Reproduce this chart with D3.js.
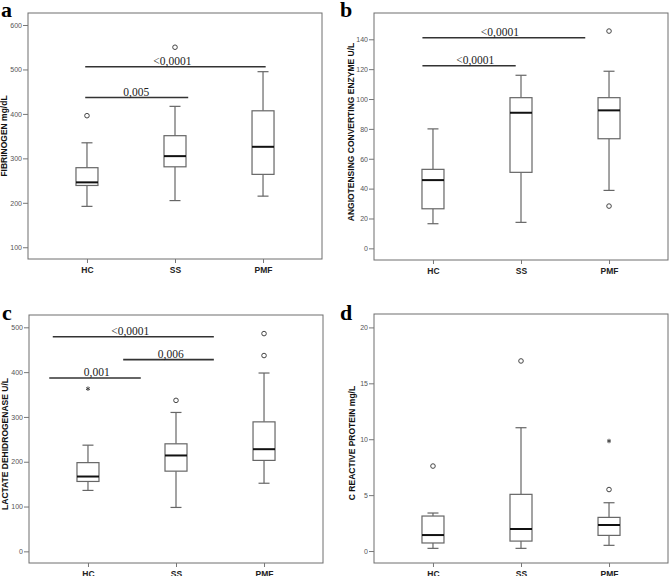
<!DOCTYPE html>
<html>
<head>
<meta charset="utf-8">
<script src="https://cdn.jsdelivr.net/npm/d3@7"></script>
<style>
  body { margin: 0; background: #fff; }
  svg { display: block; }
</style>
</head>
<body>
<script>
// groups on the x axis of every panel
var groups = ["HC", "SS", "PMF"];

// five number summaries per group: [low whisker, Q1, median, Q3, high whisker]
var fibrinogenStats = [[192, 239, 246, 279, 335], [205, 281, 305, 351, 417], [215, 264, 326, 407, 495]];
var aceStats = [[16.5, 26.5, 45.7, 52.9, 80], [17.4, 50.9, 90.8, 100.9, 115.9], [38.8, 73.4, 92.4, 100.9, 118.6]];
var ldhStats = [[136, 156, 167, 198, 237], [98, 179, 214, 240, 310], [152, 203, 228, 289, 398]];
var crpStats = [[0.24, 0.72, 1.43, 3.13, 3.4], [0.24, 0.89, 1.97, 5.07, 11.03], [0.51, 1.4, 2.33, 3.01, 4.32]];

// outliers: group index, value, kind ("o" circle, "*" extreme)
var fibrinogenOutliers = [[0, 396, "o"], [1, 550, "o"]];
var aceOutliers = [[2, 145.5, "o"], [2, 28.3, "o"]];
var ldhOutliers = [[0, 363, "*"], [1, 337, "o"], [2, 437, "o"], [2, 486, "o"]];
var crpOutliers = [[0, 7.6, "o"], [1, 17.0, "o"], [2, 5.5, "o"], [2, 9.84, "*"]];

// significance bars: from (group index), to (group index), value level, label position, label
var fibrinogenBars = [[-0.02, 2.03, 506, 0.97, "<0,0001"], [-0.02, 1.15, 437, 0.56, "0,005"]];
var aceBars = [[-0.12, 1.73, 141, 0.76, "<0,0001"], [-0.12, 0.94, 122.3, 0.48, "<0,0001"]];
var ldhBars = [[-0.40, 1.43, 479, 0.48, "<0,0001"], [0.40, 1.43, 428, 0.94, "0,006"], [-0.44, 0.60, 387, 0.10, "0,001"]];
var crpBars = [];

// tick labels
var fibrinogenTicks = [100, 200, 300, 400, 500, 600];
var aceTicks = [0, 20, 40, 60, 80, 100, 120, 140];
var ldhTicks = [0, 100, 200, 300, 400, 500];
var crpTicks = [0, 5, 10, 15, 20];

var svg = d3.select("body").append("svg")
    .attr("width", 670)
    .attr("height", 576);

var panels = [
  { letter: "a", lx: 1, ly: 17, x0: 28, x1: 322, y0: 13, y1: 259, domain: [73.6, 627],
    title: "FIBRINOGEN mg/dL", tx: 7, ty: 136,
    stats: fibrinogenStats, outliers: fibrinogenOutliers, bars: fibrinogenBars, ticks: fibrinogenTicks },
  { letter: "b", lx: 340, ly: 17, x0: 374, x1: 668, y0: 13, y1: 260, domain: [-7.8, 157.6],
    title: "ANGIOTENSING CONVERTING ENZYME U/L", tx: 354, ty: 132,
    stats: aceStats, outliers: aceOutliers, bars: aceBars, ticks: aceTicks },
  { letter: "c", lx: 2, ly: 320, x0: 29, x1: 323, y0: 315, y1: 563, domain: [-26, 527.5],
    title: "LACTATE DEHIDROGENASE U/L", tx: 8, ty: 444,
    stats: ldhStats, outliers: ldhOutliers, bars: ldhBars, ticks: ldhTicks },
  { letter: "d", lx: 340, ly: 320, x0: 374, x1: 668, y0: 314, y1: 563, domain: [-1.07, 21.2],
    title: "C REACTIVE PROTEIN mg/L", tx: 355, ty: 443,
    stats: crpStats, outliers: crpOutliers, bars: crpBars, ticks: crpTicks }
];

panels.forEach(function(p) {
  var x = d3.scalePoint().domain(groups).range([p.x0, p.x1]).padding(0.67);
  var xi = d3.scaleLinear().domain([0, 2]).range([x(groups[0]), x(groups[2])]);
  var y = d3.scaleLinear().domain(p.domain).range([p.y1, p.y0]);
  var boxW = 22;

  var g = svg.append("g");

  // frame
  g.append("rect")
      .attr("x", p.x0)
      .attr("y", p.y0)
      .attr("width", p.x1 - p.x0)
      .attr("height", p.y1 - p.y0)
      .attr("fill", "none")
      .attr("stroke", "#6e6e6e")
      .attr("stroke-width", 1);

  // y axis
  var ya = g.append("g")
      .attr("transform", "translate(" + p.x0 + ",0)")
      .call(d3.axisLeft(y).tickValues(p.ticks).tickSize(5).tickPadding(1));
  ya.select(".domain").remove();
  ya.selectAll("line").attr("stroke", "#777");
  ya.selectAll("text")
      .attr("font-family", "Liberation Sans, Arial, sans-serif")
      .attr("font-size", 7)
      .attr("fill", "#555");

  // x axis
  var xa = g.append("g")
      .attr("transform", "translate(0," + p.y1 + ")")
      .call(d3.axisBottom(x).tickSize(4).tickPadding(3.5));
  xa.select(".domain").remove();
  xa.selectAll("line").attr("stroke", "#777");
  xa.selectAll("text")
      .attr("font-family", "Liberation Sans, Arial, sans-serif")
      .attr("font-size", 8.5)
      .attr("font-weight", "bold")
      .attr("fill", "#222");

  // y title
  g.append("text")
      .attr("transform", "translate(" + p.tx + "," + p.ty + ") rotate(-90)")
      .attr("text-anchor", "middle")
      .attr("font-family", "Liberation Sans, Arial, sans-serif")
      .attr("font-size", 8.5)
      .attr("font-weight", "bold")
      .attr("fill", "#111")
      .text(p.title);

  // panel letter
  g.append("text")
      .attr("x", p.lx)
      .attr("y", p.ly)
      .attr("font-family", "Liberation Serif, Times New Roman, serif")
      .attr("font-size", 22)
      .attr("font-weight", "bold")
      .attr("fill", "#000")
      .text(p.letter);

  // boxes
  p.stats.forEach(function(s, i) {
    var cx = x(groups[i]);
    var box = g.append("g");
    box.append("line")
        .attr("x1", cx).attr("x2", cx)
        .attr("y1", y(s[3])).attr("y2", y(s[4]))
        .attr("stroke", "#666").attr("stroke-width", 1.2);
    box.append("line")
        .attr("x1", cx).attr("x2", cx)
        .attr("y1", y(s[0])).attr("y2", y(s[1]))
        .attr("stroke", "#666").attr("stroke-width", 1.2);
    [s[0], s[4]].forEach(function(v) {
      box.append("line")
          .attr("x1", cx - boxW / 4).attr("x2", cx + boxW / 4)
          .attr("y1", y(v)).attr("y2", y(v))
          .attr("stroke", "#666").attr("stroke-width", 1.2);
    });
    box.append("rect")
        .attr("x", cx - boxW / 2)
        .attr("y", y(s[3]))
        .attr("width", boxW)
        .attr("height", y(s[1]) - y(s[3]))
        .attr("fill", "#fff")
        .attr("stroke", "#666")
        .attr("stroke-width", 1.2);
    box.append("line")
        .attr("x1", cx - boxW / 2).attr("x2", cx + boxW / 2)
        .attr("y1", y(s[2])).attr("y2", y(s[2]))
        .attr("stroke", "#111").attr("stroke-width", 2);
  });

  // outliers
  p.outliers.forEach(function(o) {
    var cx = x(groups[o[0]]);
    if (o[2] === "o") {
      g.append("circle")
          .attr("cx", cx).attr("cy", y(o[1])).attr("r", 2.3)
          .attr("fill", "none").attr("stroke", "#444").attr("stroke-width", 1);
    } else {
      g.append("path")
          .attr("transform", "translate(" + cx + "," + y(o[1]) + ")")
          .attr("d", d3.symbol().type(d3.symbolAsterisk).size(14)())
          .attr("fill", "none").attr("stroke", "#444").attr("stroke-width", 1);
    }
  });

  // significance bars
  p.bars.forEach(function(b) {
    g.append("line")
        .attr("x1", xi(b[0])).attr("x2", xi(b[1]))
        .attr("y1", y(b[2])).attr("y2", y(b[2]))
        .attr("stroke", "#333").attr("stroke-width", 1.6);
    g.append("text")
        .attr("x", xi(b[3]))
        .attr("y", y(b[2]) - 1.5)
        .attr("text-anchor", "middle")
        .attr("font-family", "Liberation Serif, Times New Roman, serif")
        .attr("font-size", 11.5)
        .attr("fill", "#222")
        .text(b[4]);
  });
});
</script>
</body>
</html>
